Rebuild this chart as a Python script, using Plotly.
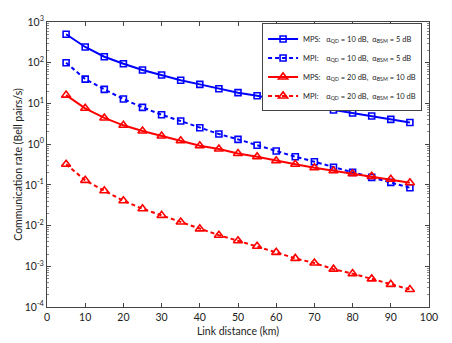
import plotly.graph_objects as go

distance_km = [5, 10, 15, 20, 25, 30, 35, 40, 45, 50, 55, 60, 65, 70, 75, 80, 85, 90, 95]

mps_qd10_bsm5 = [500, 243, 140, 94, 66, 50, 37, 29.4, 23, 18.4, 15.5, 12.3, 10.0, 8.3, 6.9, 5.8, 4.9, 4.06, 3.4]
mpi_qd10_bsm5 = [100, 39.6, 22.2, 12.8, 8.0, 5.27, 3.70, 2.53, 1.77, 1.31, 0.94, 0.676, 0.49, 0.37, 0.27, 0.203, 0.153, 0.115, 0.085]
mps_qd20_bsm10 = [16, 7.6, 4.4, 2.9, 2.1, 1.58, 1.21, 0.91, 0.76, 0.59, 0.49, 0.39, 0.32, 0.263, 0.222, 0.187, 0.162, 0.137, 0.113]
mpi_qd20_bsm10 = [0.32, 0.129, 0.0716, 0.0407, 0.0259, 0.0178, 0.0122, 0.0083, 0.0058, 0.00423, 0.0031, 0.0022, 0.00156, 0.0012, 0.00085, 0.00066, 0.00049, 0.00036, 0.00027]

NB = "\u00a0"
legend_names = [
    f"MPS:{NB*3}α<sub>QD</sub> = 10 dB,{NB*2}α<sub>BSM</sub> = 5 dB",
    f"MPI:{NB*4}α<sub>QD</sub> = 10 dB,{NB*2}α<sub>BSM</sub> = 5 dB",
    f"MPS:{NB*3}α<sub>QD</sub> = 20 dB,{NB*2}α<sub>BSM</sub> = 10 dB",
    f"MPI:{NB*4}α<sub>QD</sub> = 20 dB,{NB*2}α<sub>BSM</sub> = 10 dB",
]

x_ticks = [0, 10, 20, 30, 40, 50, 60, 70, 80, 90, 100]
y_tickvals = [1e-4, 1e-3, 1e-2, 1e-1, 1, 10, 100, 1000]
y_ticktext = ["10<sup>-4</sup>", "10<sup>-3</sup>", "10<sup>-2</sup>", "10<sup>-1</sup>",
              "10<sup>0</sup>", "10<sup>1</sup>", "10<sup>2</sup>", "10<sup>3</sup>"]
y_minor_vals = [m * d for d in [1e-4, 1e-3, 1e-2, 1e-1, 1, 10, 100] for m in range(2, 10)]

series = [
    (mps_qd10_bsm5, "#0000FF", "solid", "square-open", 6),
    (mpi_qd10_bsm5, "#0000FF", "4px,3px", "square-open", 6),
    (mps_qd20_bsm10, "#FF0000", "solid", "triangle-up-open", 8),
    (mpi_qd20_bsm10, "#FF0000", "4px,3px", "triangle-up-open", 8),
]

fig = go.Figure()
for (vals, color, dash, sym, size), name in zip(series, legend_names):
    fig.add_trace(go.Scatter(
        x=distance_km, y=vals, mode="lines+markers", name=name,
        line=dict(color=color, width=2, dash=dash),
        marker=dict(symbol=sym, size=size, color=color, line=dict(width=1.6, color=color)),
    ))

font = "Lato, Open Sans, sans-serif"
# page body has an 8px default margin, so the figure is sized to fill the rest of the window
fig.update_layout(
    width=444, height=335,
    margin=dict(l=39, r=23, t=14, b=36),
    paper_bgcolor="white", plot_bgcolor="white",
    font=dict(family=font, size=10.5, color="#222"),
    showlegend=True,
    legend=dict(x=0.563, y=0.995, xanchor="left", yanchor="top",
                bordercolor="#444", borderwidth=1, bgcolor="white",
                font=dict(size=7.5), tracegroupgap=0, itemwidth=30),
)
fig.update_xaxes(
    range=[0, 100], tickvals=x_ticks, showgrid=False, zeroline=False, automargin=False,
    showline=True, linecolor="#444", linewidth=1, mirror="allticks",
    ticks="inside", ticklen=4, tickcolor="#444",
    title=dict(text="Link distance (km)", standoff=6, font=dict(size=10.5)),
)
fig.update_yaxes(
    type="log", range=[-4, 3], tickvals=y_tickvals, ticktext=y_ticktext,
    showgrid=False, zeroline=False, automargin=False,
    showline=True, linecolor="#444", linewidth=1, mirror="allticks",
    ticks="inside", ticklen=4, tickcolor="#444",
    minor=dict(tickmode="array", tickvals=y_minor_vals, ticks="inside", ticklen=2,
               tickcolor="#888", showgrid=False),
    title=dict(text="Communication rate (Bell pairs/s)", standoff=0, font=dict(size=10.5)),
)

fig.write_html("out.html")
